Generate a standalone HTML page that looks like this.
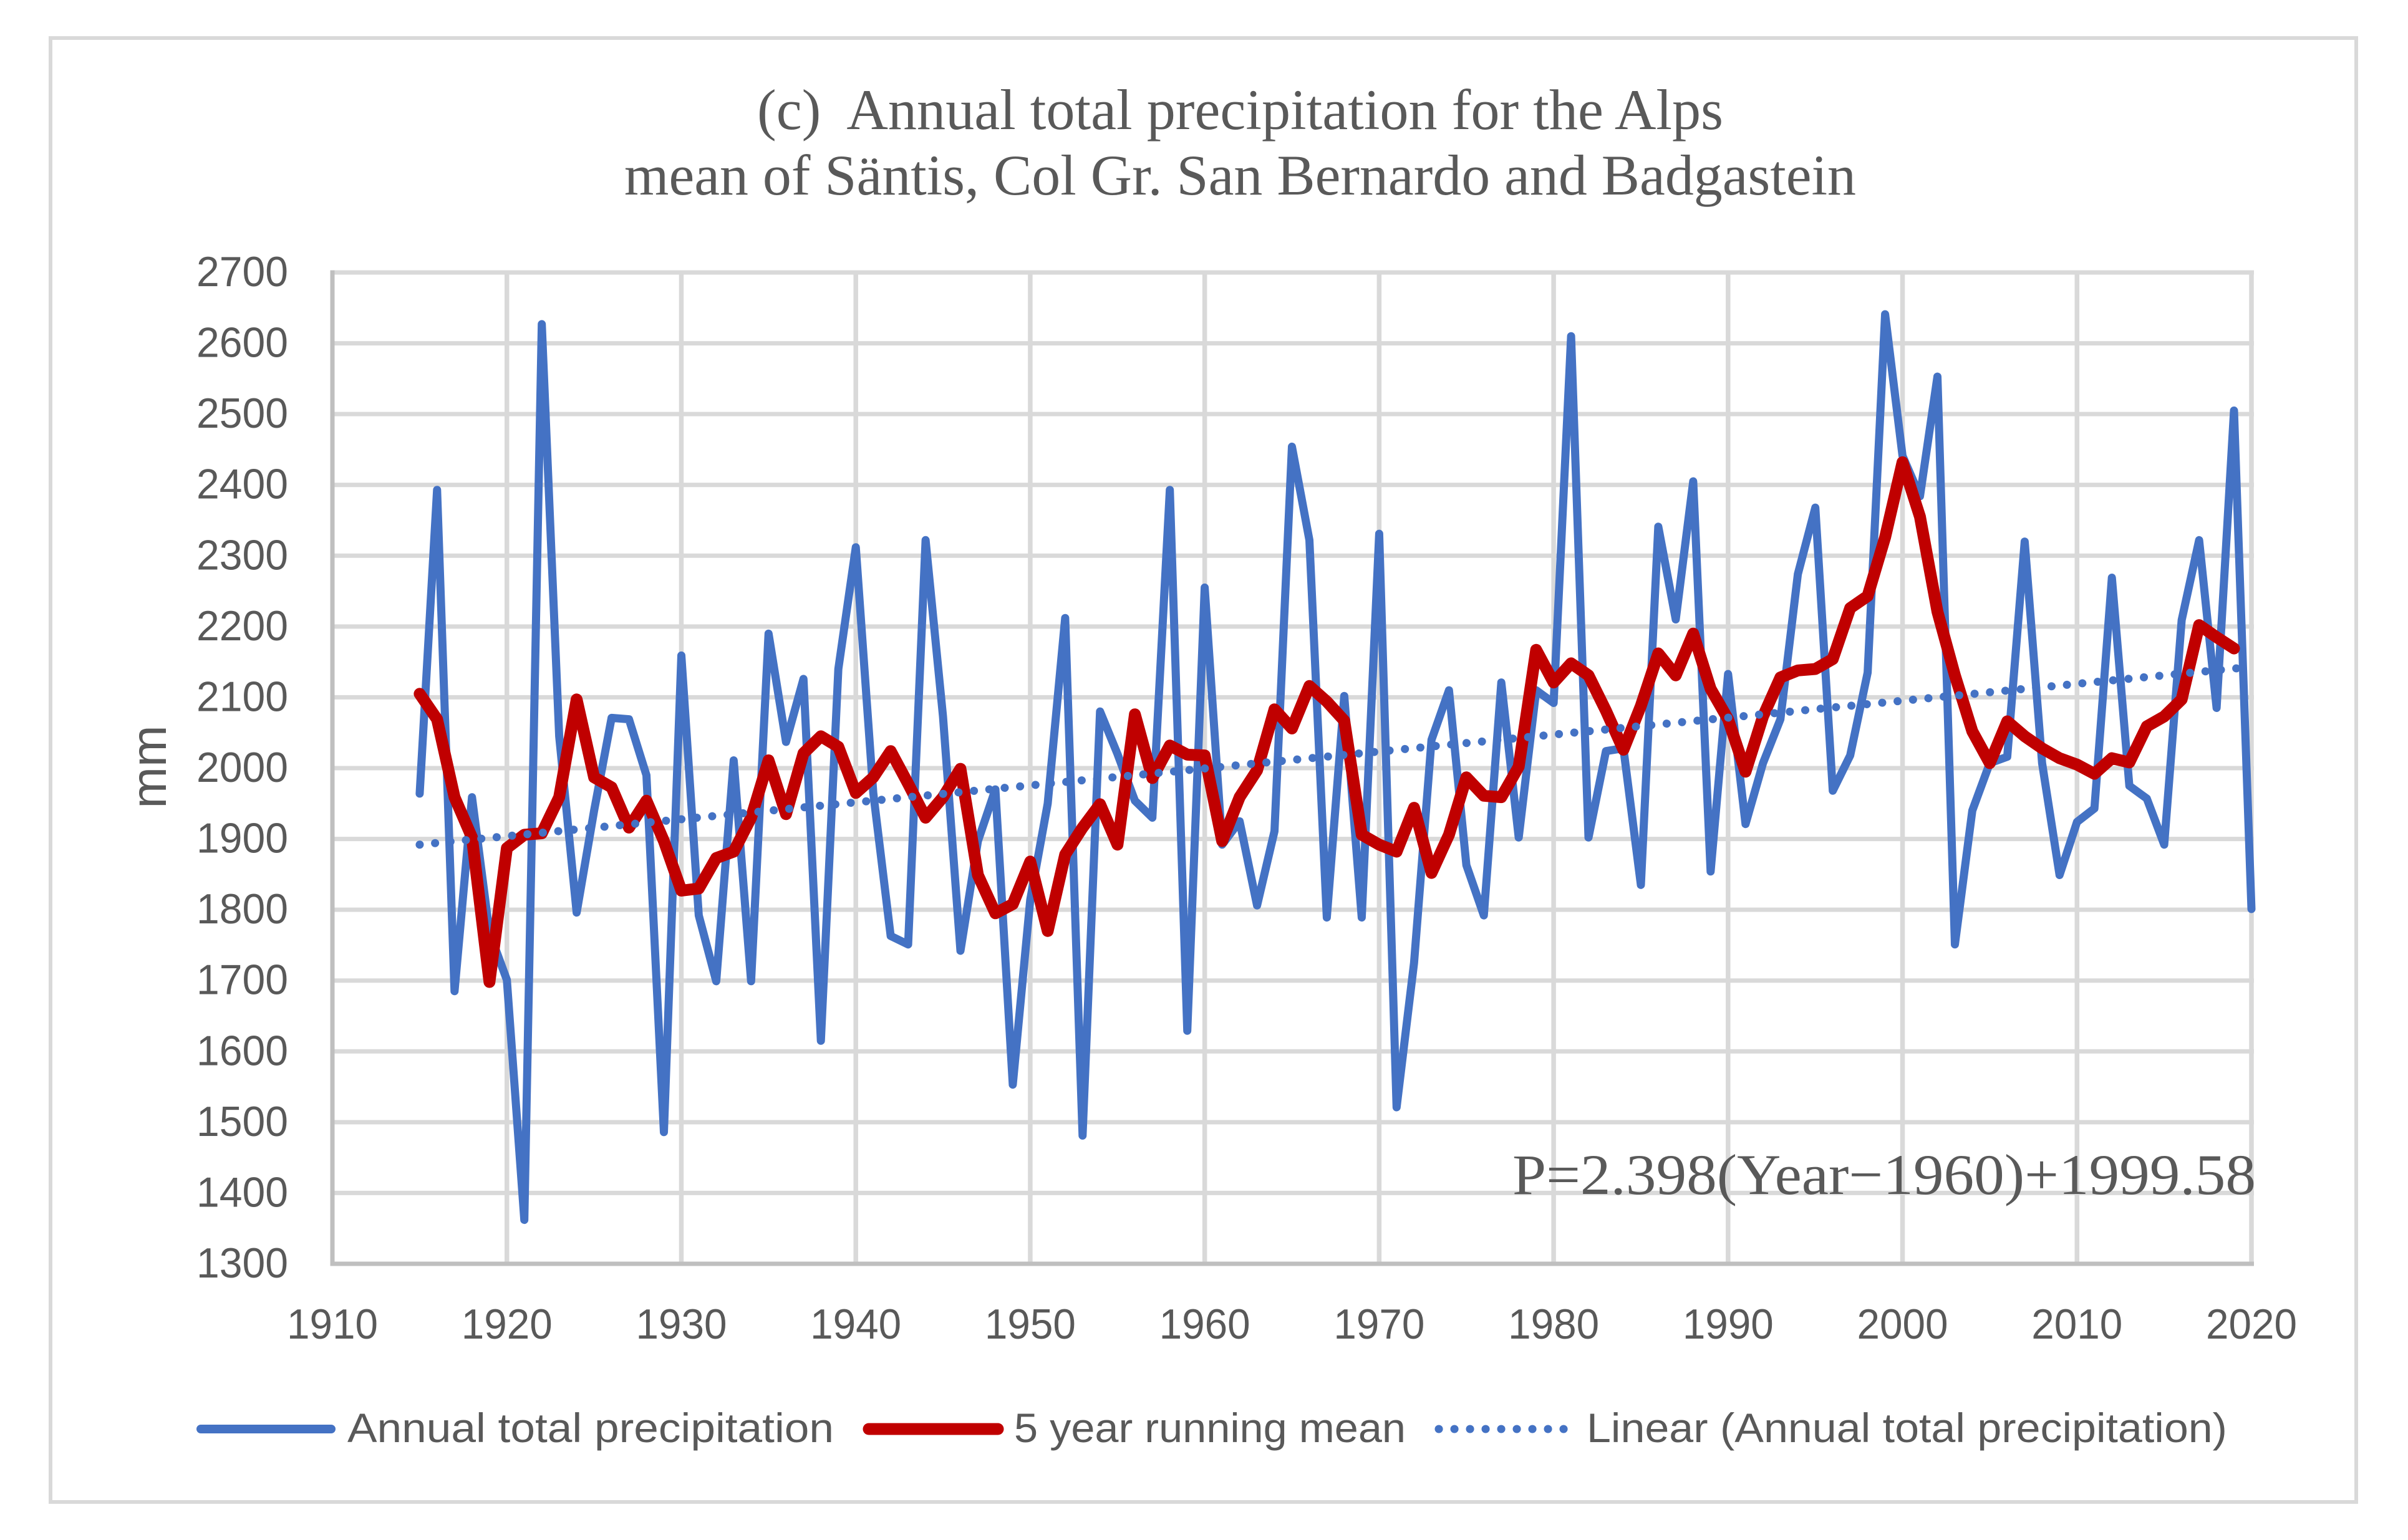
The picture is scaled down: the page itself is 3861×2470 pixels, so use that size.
<!DOCTYPE html>
<html lang="en">
<head>
<meta charset="utf-8">
<title>Annual total precipitation for the Alps</title>
<style>
html,body{margin:0;padding:0;background:#fff;}
svg{display:block;}
text{fill:#595959;font-family:"Liberation Sans",sans-serif;white-space:pre;}
.serif{font-family:"Liberation Serif",serif;}
</style>
</head>
<body>
<svg id="chart" xmlns="http://www.w3.org/2000/svg" width="3861" height="2470" viewBox="0 0 3861 2470">
  <rect x="0" y="0" width="3861" height="2470" fill="#ffffff"/>
  <rect x="81" y="61" width="3697" height="2348" fill="none" stroke="#d9d9d9" stroke-width="6"/>
  <text class="serif" x="1214" y="207" font-size="92" textLength="1549" lengthAdjust="spacingAndGlyphs">(c)  Annual total precipitation for the Alps</text>
  <text class="serif" x="1001" y="312" font-size="92" textLength="1975" lengthAdjust="spacingAndGlyphs">mean of Säntis, Col Gr. San Bernardo and Badgastein</text>
  <g id="grid"></g>
  <g id="axes"></g>
  <g id="series"></g>
  <text x="0" y="0" font-size="80" text-anchor="middle" transform="translate(266,1230) rotate(-90)">mm</text>
  <text class="serif" x="2425" y="1915" font-size="92" textLength="1192" lengthAdjust="spacingAndGlyphs">P=2.398(Year−1960)+1999.58</text>
  <g>
    <g>
      <line x1="322" y1="2292" x2="531" y2="2292" stroke="#4472c4" stroke-width="14" stroke-linecap="round"/>
      <text x="557" y="2313" font-size="66" textLength="780" lengthAdjust="spacingAndGlyphs">Annual total precipitation</text>
    </g>
    <g>
      <line x1="1393" y1="2292" x2="1600" y2="2292" stroke="#c00000" stroke-width="19" stroke-linecap="round"/>
      <text x="1626" y="2313" font-size="66" textLength="628" lengthAdjust="spacingAndGlyphs">5 year running mean</text>
    </g>
    <g>
      <line x1="2307" y1="2292" x2="2508" y2="2292" stroke="#4472c4" stroke-width="13" stroke-linecap="round" stroke-dasharray="0.1 24.9"/>
      <text x="2544" y="2313" font-size="66" textLength="1027" lengthAdjust="spacingAndGlyphs">Linear (Annual total precipitation)</text>
    </g>
  </g>
</svg>
<script>
var xTickLabels = [1910,1920,1930,1940,1950,1960,1970,1980,1990,2000,2010,2020];
var yTickLabels = [1300,1400,1500,1600,1700,1800,1900,2000,2100,2200,2300,2400,2500,2600,2700];
var annualYears = [1915,1916,1917,1918,1919,1920,1921,1922,1923,1924,1925,1926,1927,1928,1929,1930,1931,1932,1933,1934,1935,1936,1937,1938,1939,1940,1941,1942,1943,1944,1945,1946,1947,1948,1949,1950,1951,1952,1953,1954,1955,1956,1957,1958,1959,1960,1961,1962,1963,1964,1965,1966,1967,1968,1969,1970,1971,1972,1973,1974,1975,1976,1977,1978,1979,1980,1981,1982,1983,1984,1985,1986,1987,1988,1989,1990,1991,1992,1993,1994,1995,1996,1997,1998,1999,2000,2001,2002,2003,2004,2005,2006,2007,2008,2009,2010,2011,2012,2013,2014,2015,2016,2017,2018,2019,2020];
var annualValues = [1964,2393,1685,1959,1768,1701,1362,2627,2045,1796,1940,2071,2069,1990,1486,2159,1792,1699,2011,1699,2190,2037,2126,1615,2140,2312,1965,1763,1751,2322,2073,1742,1897,1970,1553,1814,1950,2212,1481,2080,2020,1954,1930,2393,1629,2255,1892,1925,1806,1911,2454,2322,1789,2102,1789,2331,1521,1725,2040,2110,1863,1792,2121,1902,2110,2092,2610,1902,2024,2028,1835,2341,2210,2405,1854,2133,1921,2007,2069,2274,2368,1968,2018,2135,2641,2441,2384,2553,1751,1940,2007,2016,2320,2007,1849,1924,1943,2269,1975,1957,1892,2209,2322,2085,2505,1801];
var meanYears = [1915,1916,1917,1918,1919,1920,1921,1922,1923,1924,1925,1926,1927,1928,1929,1930,1931,1932,1933,1934,1935,1936,1937,1938,1939,1940,1941,1942,1943,1944,1945,1946,1947,1948,1949,1950,1951,1952,1953,1954,1955,1956,1957,1958,1959,1960,1961,1962,1963,1964,1965,1966,1967,1968,1969,1970,1971,1972,1973,1974,1975,1976,1977,1978,1979,1980,1981,1982,1983,1984,1985,1986,1987,1988,1989,1990,1991,1992,1993,1994,1995,1996,1997,1998,1999,2000,2001,2002,2003,2004,2005,2006,2007,2008,2009,2010,2011,2012,2013,2014,2015,2016,2017,2018,2019];
var meanValues = [2105,2069,1959,1902,1698,1887,1906,1908,1959,2097,1987,1973,1916,1954,1897,1827,1830,1873,1882,1930,2011,1935,2021,2045,2030,1965,1987,2024,1978,1930,1959,1999,1849,1795,1808,1868,1770,1878,1916,1949,1892,2076,1986,2032,2019,2018,1897,1959,1997,2083,2056,2116,2094,2067,1906,1892,1882,1944,1852,1906,1987,1961,1959,2002,2167,2121,2148,2131,2081,2026,2088,2162,2131,2190,2112,2069,1995,2073,2128,2138,2140,2154,2226,2243,2326,2432,2355,2221,2131,2052,2007,2066,2045,2028,2014,2005,1992,2014,2008,2059,2073,2097,2202,2185,2169];
var trendYears = [1915,2020];
var trendValues = [1892,2143];

var NS = 'http://www.w3.org/2000/svg';
var plotLeft = 533, plotRight = 3610, plotTop = 437, plotBottom = 2027;
var xMin = 1910, xMax = 2020, yMin = 1300, yMax = 2700;

function xScale(v){ return plotLeft + (v - xMin) / (xMax - xMin) * (plotRight - plotLeft); }
function yScale(v){ return plotBottom - (v - yMin) / (yMax - yMin) * (plotBottom - plotTop); }
function svgEl(tag){ return document.createElementNS(NS, tag); }
function linePath(xs, ys){
  var d = '';
  for (var i = 0; i < xs.length; i++){
    d += (i ? 'L' : 'M') + xScale(xs[i]).toFixed(1) + ' ' + yScale(ys[i]).toFixed(1);
  }
  return d;
}

var grid = document.getElementById('grid');
var axes = document.getElementById('axes');
var series = document.getElementById('series');

yTickLabels.forEach(function(t){
  var y = yScale(t);
  if (t !== yMin){
    var g = svgEl('line');
    
    
    g.setAttribute('x1', plotLeft); g.setAttribute('x2', plotRight + 4);
    g.setAttribute('y1', y); g.setAttribute('y2', y);
    g.setAttribute('stroke', '#d9d9d9'); g.setAttribute('stroke-width', '7');
    grid.appendChild(g);
  }
  var l = svgEl('text');
  
  
  l.setAttribute('x', 315); l.setAttribute('y', y + 22);
  l.setAttribute('font-size', '68');
  l.setAttribute('textLength', '147');
  l.setAttribute('lengthAdjust', 'spacingAndGlyphs');
  l.textContent = t;
  axes.appendChild(l);
});

xTickLabels.forEach(function(t){
  var x = xScale(t);
  if (t !== xMin){
    var g = svgEl('line');
    
    
    g.setAttribute('x1', x); g.setAttribute('x2', x);
    g.setAttribute('y1', plotTop - 3.5); g.setAttribute('y2', plotBottom);
    g.setAttribute('stroke', '#d9d9d9'); g.setAttribute('stroke-width', '7.5');
    grid.appendChild(g);
  }
  var l = svgEl('text');
  
  
  l.setAttribute('x', x - 73); l.setAttribute('y', 2147);
  l.setAttribute('font-size', '68');
  l.setAttribute('textLength', '146');
  l.setAttribute('lengthAdjust', 'spacingAndGlyphs');
  l.textContent = t;
  axes.appendChild(l);
});

var yAxisLine = svgEl('line');


yAxisLine.setAttribute('x1', plotLeft); yAxisLine.setAttribute('x2', plotLeft);
yAxisLine.setAttribute('y1', plotTop - 3.5); yAxisLine.setAttribute('y2', plotBottom + 3.5);
yAxisLine.setAttribute('stroke', '#bfbfbf'); yAxisLine.setAttribute('stroke-width', '7');
axes.appendChild(yAxisLine);

var xAxisLine = svgEl('line');


xAxisLine.setAttribute('x1', plotLeft); xAxisLine.setAttribute('x2', plotRight + 4);
xAxisLine.setAttribute('y1', plotBottom); xAxisLine.setAttribute('y2', plotBottom);
xAxisLine.setAttribute('stroke', '#bfbfbf'); xAxisLine.setAttribute('stroke-width', '7');
axes.appendChild(xAxisLine);

var annualLine = svgEl('path');


annualLine.setAttribute('d', linePath(annualYears, annualValues));
annualLine.setAttribute('fill', 'none');
annualLine.setAttribute('stroke', '#4472c4');
annualLine.setAttribute('stroke-width', '13');
annualLine.setAttribute('stroke-linecap', 'round');
annualLine.setAttribute('stroke-linejoin', 'round');
series.appendChild(annualLine);

var meanLine = svgEl('path');


meanLine.setAttribute('d', linePath(meanYears, meanValues));
meanLine.setAttribute('fill', 'none');
meanLine.setAttribute('stroke', '#c00000');
meanLine.setAttribute('stroke-width', '19');
meanLine.setAttribute('stroke-linecap', 'round');
meanLine.setAttribute('stroke-linejoin', 'round');
series.appendChild(meanLine);

var trendLine = svgEl('path');


trendLine.setAttribute('d', linePath(trendYears, trendValues));
trendLine.setAttribute('fill', 'none');
trendLine.setAttribute('stroke', '#4472c4');
trendLine.setAttribute('stroke-width', '13');
trendLine.setAttribute('stroke-linecap', 'round');
trendLine.setAttribute('stroke-dasharray', '0.1 24.7');
series.appendChild(trendLine);
</script>
</body>
</html>
